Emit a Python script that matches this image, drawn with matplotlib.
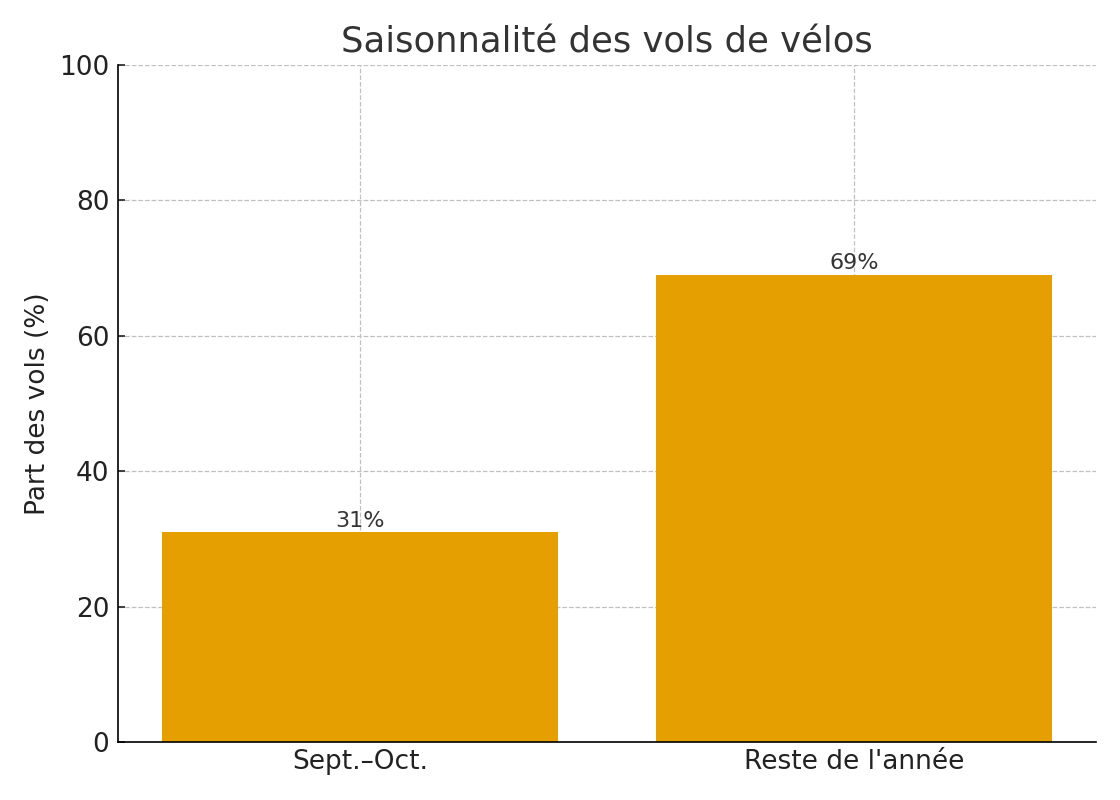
import matplotlib
matplotlib.use("Agg")
import matplotlib.pyplot as plt

# données
periodes = ["Sept.–Oct.", "Reste de l'année"]
parts = [31, 69]
etiquettes = ["31%", "69%"]

fig = plt.figure(figsize=(11.2, 8), dpi=100)
ax = fig.add_axes([0.105, 0.0725, 0.874, 0.8465])

barres = ax.bar(periodes, parts, width=0.8, color="#E69F00", zorder=2)

# valeurs au-dessus des barres
for b, txt in zip(barres, etiquettes):
    ax.text(b.get_x() + b.get_width() / 2, b.get_height() + 0.2, txt,
            ha="center", va="bottom", fontsize=16, color="#333333")

ax.set_ylim(0, 100)
ax.set_yticks([0, 20, 40, 60, 80, 100])
ax.set_ylabel("Part des vols (%)", fontsize=19, color="#222222", labelpad=6)
ax.set_title("Saisonnalité des vols de vélos", fontsize=25.5, color="#333333", pad=9)
ax.tick_params(axis="both", labelsize=19, length=5, direction="in", width=1.2,
               colors="#222222", pad=6)
ax.tick_params(axis="x", pad=5)

ax.grid(True, linestyle="--", color="#c0c0c0", linewidth=0.9, zorder=0)
ax.set_axisbelow(True)
ax.spines["top"].set_visible(False)
ax.spines["right"].set_visible(False)
ax.spines["left"].set_linewidth(1.2)
ax.spines["bottom"].set_linewidth(1.2)

fig.savefig("out.png", dpi=100)
